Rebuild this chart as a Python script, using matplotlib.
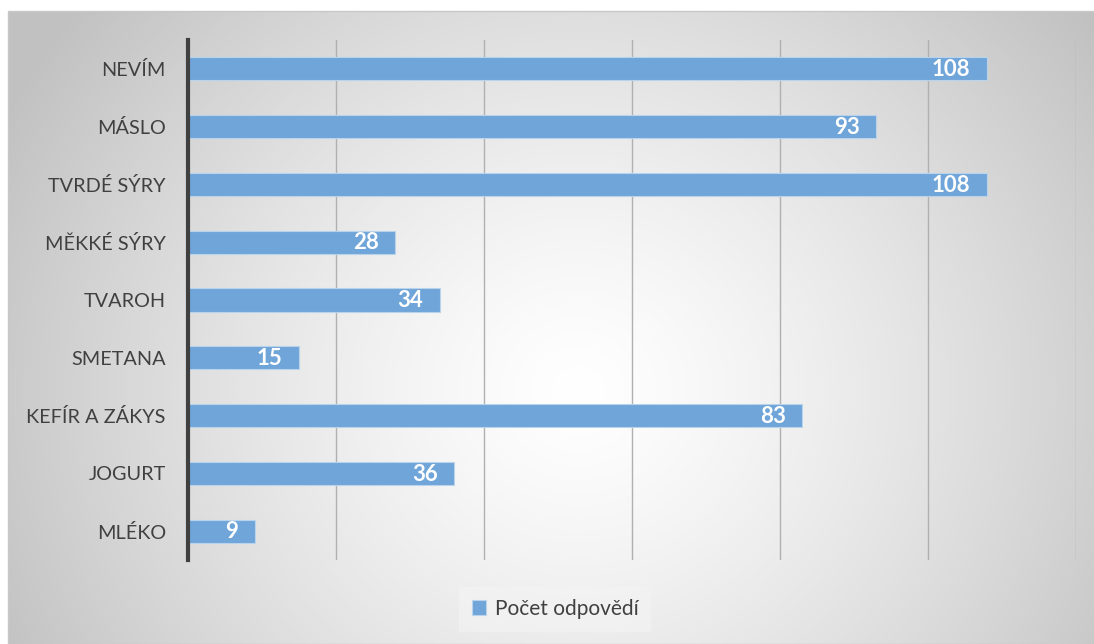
import numpy as np
import matplotlib.pyplot as plt
from matplotlib.patches import Rectangle

plt.rcParams['font.family'] = ['Lato', 'DejaVu Sans']

categories = ["MLÉKO", "JOGURT", "KEFÍR A ZÁKYS", "SMETANA", "TVAROH",
              "MĚKKÉ SÝRY", "TVRDÉ SÝRY", "MÁSLO", "NEVÍM"]
values = [9, 36, 83, 15, 34, 28, 108, 93, 108]
series_name = "Počet odpovědí"
x_max = 120
x_step = 20

W, H = 1094, 644
fig = plt.figure(figsize=(W / 100, H / 100), dpi=100)
fig.patch.set_facecolor("white")

# Chart-area background: radial gradient, white centre fading to grey edges
bg_left, bg_top = 8, 11
bg = fig.add_axes([bg_left / W, 0, 1 - bg_left / W, (H - bg_top) / H])
bw, bh = W - bg_left, H - bg_top
yy, xx = np.mgrid[0:bh, 0:bw]
cx, cy = 570, 380
r = np.sqrt(((xx - cx) / 1.0) ** 2 + ((yy - cy) / 0.95) ** 2)
t = np.clip(r / 640, 0, 1) ** 1.3
shade = 1.0 - t * (1.0 - 0.76)
img = np.dstack([shade, shade, shade])
bg.imshow(img, aspect="auto", interpolation="bilinear")
bg.set_axis_off()
fig.add_artist(Rectangle((bg_left / W, 0), 1 - bg_left / W + 0.01, (H - bg_top) / H,
                         transform=fig.transFigure, fill=False,
                         edgecolor="#c8c8c8", linewidth=1.0))

# Plot area
ax = fig.add_axes([188 / W, 84 / H, 888 / W, 520 / H])
ax.patch.set_alpha(0)
y = np.arange(len(categories))
bar_color = "#6fa5d8"
ax.barh(y, values, height=0.4, color=bar_color, edgecolor="#b9d3ec",
        linewidth=0.8, zorder=3, label=series_name)

for yi, v in zip(y, values):
    ax.annotate(str(v), xy=(v, yi), xytext=(-12, -0.5), textcoords="offset points",
                ha="right", va="center", color="white", fontweight="bold",
                fontsize=16, zorder=4)

ax.set_xlim(0, x_max)
ax.set_ylim(-0.5, len(categories) - 0.5)
ax.set_xticks(np.arange(0, x_max + 1, x_step))
ax.xaxis.grid(True, color="#b0b0b0", linewidth=1.0, zorder=1)
ax.tick_params(axis="x", length=0, labelbottom=False)
ax.tick_params(axis="y", length=0, pad=16, labelsize=14.3, labelcolor="#404040")
ax.set_yticks(y)
ax.set_yticklabels(categories)
for s in ("top", "right", "bottom"):
    ax.spines[s].set_visible(False)
ax.spines["left"].set_color("#404040")
ax.spines["left"].set_linewidth(3)
ax.spines["left"].set_zorder(5)

leg = fig.legend(loc="center", bbox_to_anchor=(555 / W, 1 - 609 / H),
                 frameon=True, fontsize=15, handlelength=0.7, handleheight=0.7,
                 handletextpad=0.4, borderpad=0.6, fancybox=False)
leg.get_frame().set_facecolor("#f4f4f4")
leg.get_frame().set_edgecolor("none")
leg.get_frame().set_alpha(0.6)
for txt in leg.get_texts():
    txt.set_color("#404040")

fig.savefig("out.png", dpi=100)
